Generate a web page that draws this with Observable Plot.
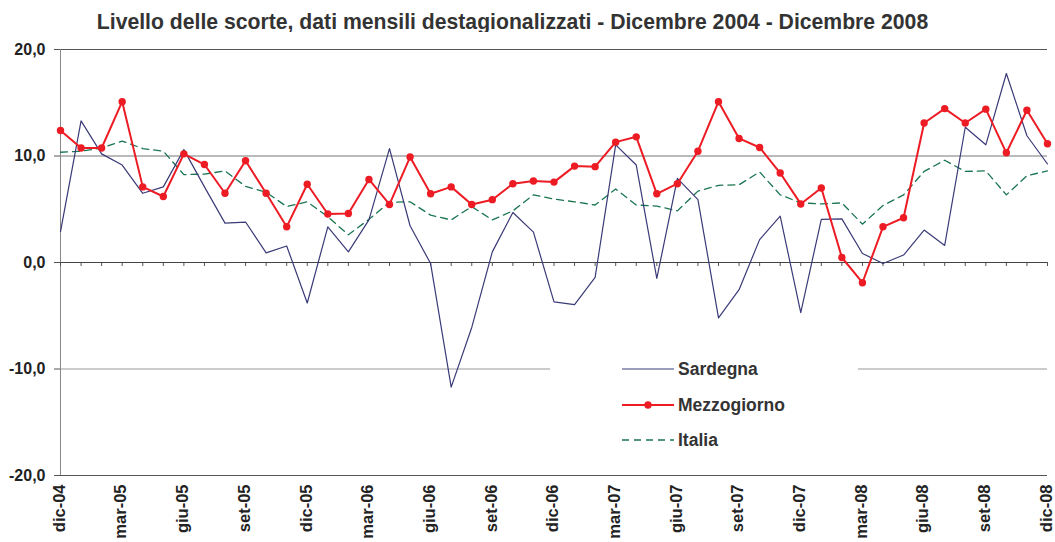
<!DOCTYPE html>
<html><head><meta charset="utf-8">
<script src="https://cdn.jsdelivr.net/npm/d3@7"></script>
<script src="https://cdn.jsdelivr.net/npm/@observablehq/plot@0.6"></script>
<style>
body{margin:0;background:#fff;font-family:"Liberation Sans",Arial,sans-serif;}
#wrap{position:relative;width:1055px;height:542px;overflow:hidden;}
#title{position:absolute;left:0;top:0;width:1025px;height:32px;box-sizing:border-box;padding-top:11px;text-align:center;font-weight:bold;font-size:21.2px;line-height:22px;color:#333;}
#chart{position:absolute;left:0;top:32px;}
#legend{position:absolute;left:550px;top:350px;width:308px;height:105px;background:#fff;}
.row{position:absolute;left:72px;height:20px;display:flex;align-items:center;font-weight:bold;font-size:17.5px;color:#333;}
.row svg{margin-right:4px;}
</style></head><body>
<div id="wrap">
<div id="title">Livello delle scorte, dati mensili destagionalizzati - Dicembre 2004 - Dicembre 2008</div>
<div id="chart"></div>
<div id="legend">
  <div class="row" style="top:9px"><svg width="52" height="10"><line x1="0" y1="5" x2="52" y2="5" stroke="#3a3a78" stroke-width="1.2"/></svg>Sardegna</div>
  <div class="row" style="top:45px"><svg width="52" height="10"><line x1="0" y1="5" x2="52" y2="5" stroke="#ed1c24" stroke-width="2"/><circle cx="26" cy="5" r="3.7" fill="#ed1c24"/></svg>Mezzogiorno</div>
  <div class="row" style="top:80px"><svg width="52" height="10"><line x1="0" y1="5" x2="52" y2="5" stroke="#1a7550" stroke-width="1.3" stroke-dasharray="7,5"/></svg>Italia</div>
</div>
</div>
<script>
const months = ["dic-04","gen-05","feb-05","mar-05","apr-05","mag-05","giu-05","lug-05","ago-05","set-05","ott-05","nov-05",
"dic-05","gen-06","feb-06","mar-06","apr-06","mag-06","giu-06","lug-06","ago-06","set-06","ott-06","nov-06",
"dic-06","gen-07","feb-07","mar-07","apr-07","mag-07","giu-07","lug-07","ago-07","set-07","ott-07","nov-07",
"dic-07","gen-08","feb-08","mar-08","apr-08","mag-08","giu-08","lug-08","ago-08","set-08","ott-08","nov-08","dic-08"];
const tickLabels = ["dic-04","mar-05","giu-05","set-05","dic-05","mar-06","giu-06","set-06","dic-06","mar-07","giu-07","set-07","dic-07","mar-08","giu-08","set-08","dic-08"];
const yTicks = [-20,-10,0,10,20];
const sardegna = [2.9,13.3,10.2,9.15,6.5,7.1,10.6,7.1,3.7,3.8,0.9,1.55,
-3.8,3.35,1.0,4.0,10.7,3.45,-0.1,-11.7,-6.1,1.0,4.7,2.85,
-3.7,-3.95,-1.4,11.05,9.15,-1.5,7.9,5.9,-5.2,-2.55,2.15,4.35,
-4.7,4.05,4.1,0.85,-0.1,0.7,3.05,1.6,12.7,11.05,17.75,11.9,9.25];
const mezzogiorno = [12.4,10.75,10.75,15.1,7.1,6.2,10.2,9.2,6.5,9.55,6.5,3.35,
7.35,4.55,4.6,7.8,5.45,9.9,6.45,7.1,5.45,5.9,7.4,7.65,
7.55,9.05,9.0,11.3,11.8,6.45,7.4,10.45,15.1,11.65,10.8,8.4,
5.5,7.0,0.47,-1.9,3.35,4.2,13.1,14.45,13.1,14.4,10.3,14.3,11.15];
const italia = [10.35,10.45,10.75,11.4,10.7,10.45,8.25,8.3,8.6,7.15,6.6,5.25,
5.7,4.3,2.6,4.05,5.65,5.7,4.45,4.0,5.25,4.0,4.85,6.35,
5.95,5.7,5.4,6.9,5.4,5.3,4.85,6.7,7.25,7.3,8.5,6.35,
5.6,5.5,5.6,3.6,5.35,6.35,8.55,9.6,8.55,8.6,6.35,8.15,8.6];

const data = months.map((m, i) => ({month: m, sardegna: sardegna[i], mezzogiorno: mezzogiorno[i], italia: italia[i]}));
const fmt = d => d.toFixed(1).replace(".", ",");
const H = 510, mT = 17, mB = 67;
const tickUnits = 4 / ((H - mT - mB) / 40);

const chart = Plot.plot({
  width: 1055, height: H,
  marginTop: mT, marginBottom: mB, marginLeft: 60, marginRight: 8,
  style: {fontFamily: "'Liberation Sans', Arial, sans-serif", color: "#222", background: "#fff", overflow: "visible"},
  x: {type: "point", domain: months, padding: 0, round: false},
  y: {domain: [-20, 20]},
  marks: [
    Plot.ruleY([20, -20], {stroke: "#555", strokeWidth: 1}),
    Plot.ruleY([10], {stroke: "#777", strokeWidth: 1}),
    Plot.ruleY([-10], {stroke: "#999", strokeWidth: 1}),
    Plot.ruleX([months[0]], {stroke: "#888", strokeWidth: 1}),
    Plot.ruleX(months, {x: d => d, y1: 0, y2: -tickUnits, stroke: "#555"}),
    Plot.ruleY([0], {stroke: "#444", strokeWidth: 1}),
    Plot.axisY({ticks: yTicks, tickFormat: fmt, tickSize: 6, tickPadding: 9, fontSize: 16, fontWeight: "bold", label: null, stroke: "#555"}),
    Plot.axisX({ticks: tickLabels, tickSize: 0, tickPadding: 9, tickRotate: -90, fontSize: 16.5, fontWeight: "bold", label: null, dx: -1}),
    Plot.line(data, {x: "month", y: "italia", stroke: "#1a7550", strokeWidth: 1.3, strokeDasharray: "7,5"}),
    Plot.line(data, {x: "month", y: "sardegna", stroke: "#3a3a78", strokeWidth: 1.2}),
    Plot.line(data, {x: "month", y: "mezzogiorno", stroke: "#ed1c24", strokeWidth: 2}),
    Plot.dot(data, {x: "month", y: "mezzogiorno", fill: "#ed1c24", r: 3.7})
  ]
});
document.getElementById("chart").appendChild(chart);
</script>
</body></html>
